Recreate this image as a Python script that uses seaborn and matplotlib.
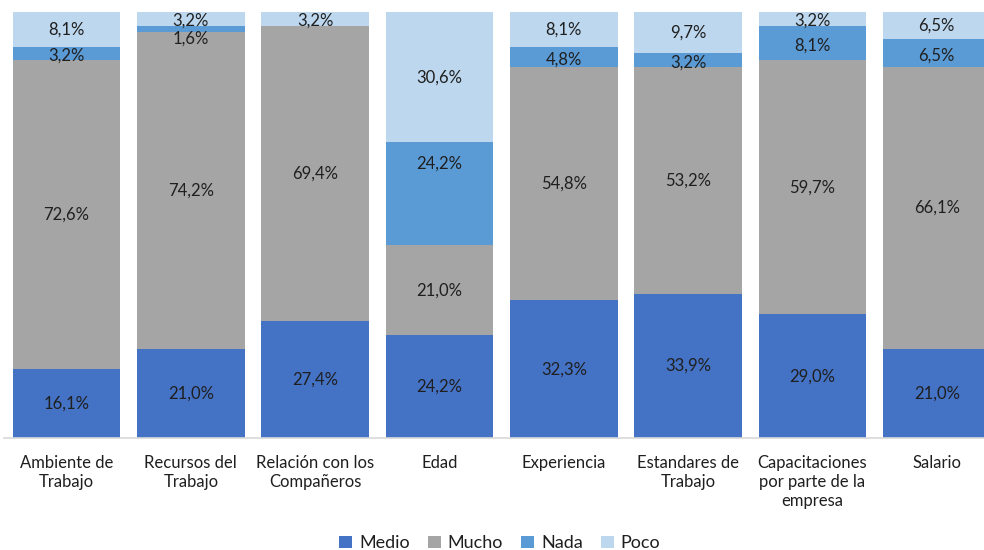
import matplotlib
matplotlib.use('Agg')
import matplotlib.pyplot as plt
from matplotlib.patches import Patch
import seaborn as sns

categorias = ['Ambiente de\nTrabajo', 'Recursos del\nTrabajo', 'Relación con los\nCompañeros', 'Edad',
              'Experiencia', 'Estandares de\nTrabajo', 'Capacitaciones\npor parte de la\nempresa', 'Salario']
medio = [16.1, 21.0, 27.4, 24.2, 32.3, 33.9, 29.0, 21.0]
mucho = [72.6, 74.2, 69.4, 21.0, 54.8, 53.2, 59.7, 66.1]
nada = [3.2, 1.6, 0.0, 24.2, 4.8, 3.2, 8.1, 6.5]
poco = [8.1, 3.2, 3.2, 30.6, 8.1, 9.7, 3.2, 6.5]

series = ['Medio', 'Mucho', 'Nada', 'Poco']
valores = [medio, mucho, nada, poco]
colores = ['#4472C4', '#A5A5A5', '#5B9BD5', '#BDD7EE']

sns.set_style('white')
plt.rcParams['font.family'] = ['Lato', 'DejaVu Sans']
texto = '#1f1f1f'

fig = plt.figure(figsize=(9.84, 5.5), dpi=100)
ax = fig.add_axes([0.0044, 0.2036, 1.0108, 0.7745])

# stacked bars: draw cumulative totals from the top series down
acumulado = []
total = [0.0] * len(categorias)
for vals in valores:
    total = [t + v for t, v in zip(total, vals)]
    acumulado.append(total)

for cum, col in reversed(list(zip(acumulado, colores))):
    sns.barplot(x=categorias, y=cum, color=col, saturation=1, width=0.865,
                edgecolor='none', linewidth=0, ax=ax)

# data labels
for s, vals in enumerate(valores):
    for i, v in enumerate(vals):
        if v <= 0:
            continue
        base = acumulado[s][i] - v
        y = base + v / 2
        if series[s] == 'Nada':
            if v > 20:
                y = acumulado[s][i] - 5
            elif v < 2:
                y = base - 1.5
            else:
                y -= 0.6
        if series[s] == 'Poco' and v < 4:
            y -= 0.4
        ax.text(i, y, f'{v:.1f}%'.replace('.', ','), ha='center', va='center',
                fontsize=12, color=texto)

ax.set_xlim(-0.5, 7.5)
ax.set_ylim(0, 100)
ax.set_yticks([])
ax.set_xlabel('')
ax.set_ylabel('')
ax.set_xticks(range(len(categorias)))
ax.set_xticklabels(categorias, fontsize=12, color=texto, linespacing=1.25, va='top')
ax.tick_params(axis='x', length=0, pad=12)
for lado in ['top', 'left', 'right']:
    ax.spines[lado].set_visible(False)
ax.spines['bottom'].set_color('#D9D9D9')
ax.spines['bottom'].set_linewidth(1.2)

handles = [Patch(facecolor=c, edgecolor='none', label=s) for s, c in zip(series, colores)]
fig.legend(handles=handles, loc='center', bbox_to_anchor=(0.508, 0.012), ncol=4, frameon=False,
           fontsize=13, handlelength=0.7, handleheight=0.7, handletextpad=0.4,
           columnspacing=1.0, labelcolor=texto)

fig.savefig('out.png', dpi=100)
